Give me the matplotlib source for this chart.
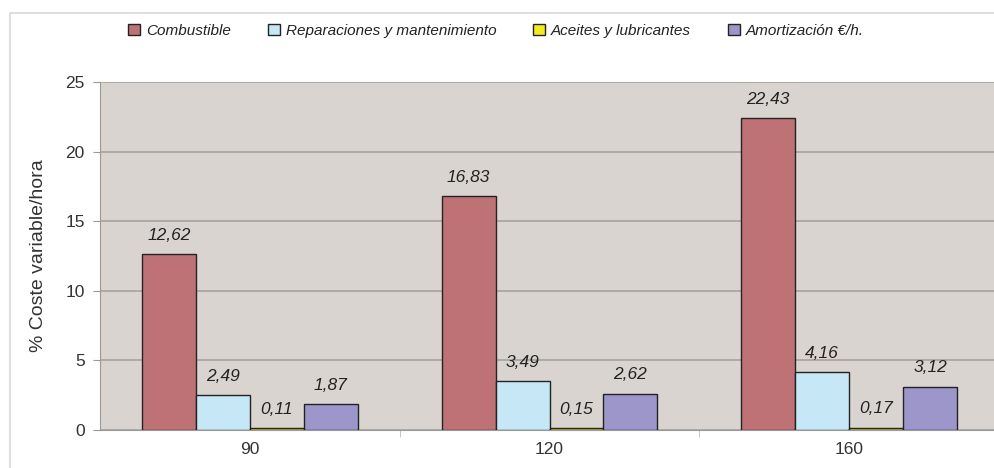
import matplotlib
matplotlib.use("Agg")
import matplotlib.pyplot as plt
from matplotlib.patches import Rectangle
import numpy as np

plt.rcParams['font.family'] = ['Liberation Sans', 'DejaVu Sans']

categories = ["90", "120", "160"]
series_names = ["Combustible", "Reparaciones y mantenimiento",
                "Aceites y lubricantes", "Amortización €/h."]
combustible = [12.62, 16.83, 22.43]
reparaciones = [2.49, 3.49, 4.16]
aceites = [0.11, 0.15, 0.17]
amortizacion = [1.87, 2.62, 3.12]
y_ticks = [0, 5, 10, 15, 20, 25]

series = [combustible, reparaciones, aceites, amortizacion]
colors = ["#BF7276", "#C6E7F5", "#F2EC1E", "#9C96CB"]

fig = plt.figure(figsize=(9.94, 4.68), dpi=100)
fig.patches.append(Rectangle((10 / 994, -0.05), 1.1, (468 - 13) / 468 + 0.05,
                             transform=fig.transFigure, fill=False,
                             edgecolor="#D8D8D8", linewidth=1.2))

ax = fig.add_axes([100 / 994, (468 - 430) / 468, 905 / 994, (430 - 82) / 468])
ax.set_facecolor("#D9D4CF")

x = np.arange(len(categories))
w = 0.18
offsets = (np.arange(4) - 1.5) * w
for s, name, c, off in zip(series, series_names, colors, offsets):
    bars = ax.bar(x + off, s, width=w, color=c, edgecolor="#222222",
                  linewidth=1.0, label=name, zorder=3)
    for b, v in zip(bars, s):
        ax.text(b.get_x() + b.get_width() / 2, v + 0.8,
                f"{v:.2f}".replace(".", ","), ha="center", va="bottom",
                fontsize=12.5, style="italic", color="#222222", zorder=4)

ax.set_xlim(-0.5, len(categories) - 0.5 + 0.02)
ax.set_ylim(0, 25)
ax.set_yticks(y_ticks)
ax.set_xticks(x)
ax.set_xticklabels(categories)
ax.set_xticks([0.5, 1.5], minor=True)
ax.tick_params(axis="x", which="major", length=0, pad=9, labelsize=12.5,
               labelcolor="#333333")
ax.tick_params(axis="x", which="minor", length=5, color="#BBBBBB", direction="out")
ax.tick_params(axis="y", length=5, color="#999999", labelsize=12.5,
               labelcolor="#333333", pad=6)
ax.grid(axis="y", color="#A8A29D", linewidth=1.2, zorder=0)
for sp in ["top", "right"]:
    ax.spines[sp].set_visible(False)
ax.spines["left"].set_color("#999999")
ax.spines["bottom"].set_color("#999999")
ax.set_ylabel("% Coste variable/hora", fontsize=14, color="#333333", labelpad=13)

handles, labels = ax.get_legend_handles_labels()
fig.legend(handles, labels, loc="center", bbox_to_anchor=(0.499, 1 - 31 / 468),
           ncol=4, frameon=False, prop={"style": "italic", "size": 11},
           handlelength=0.78, handleheight=0.78, handletextpad=0.4,
           columnspacing=2.4, labelcolor="#222222")

fig.savefig("out.png", dpi=100)
